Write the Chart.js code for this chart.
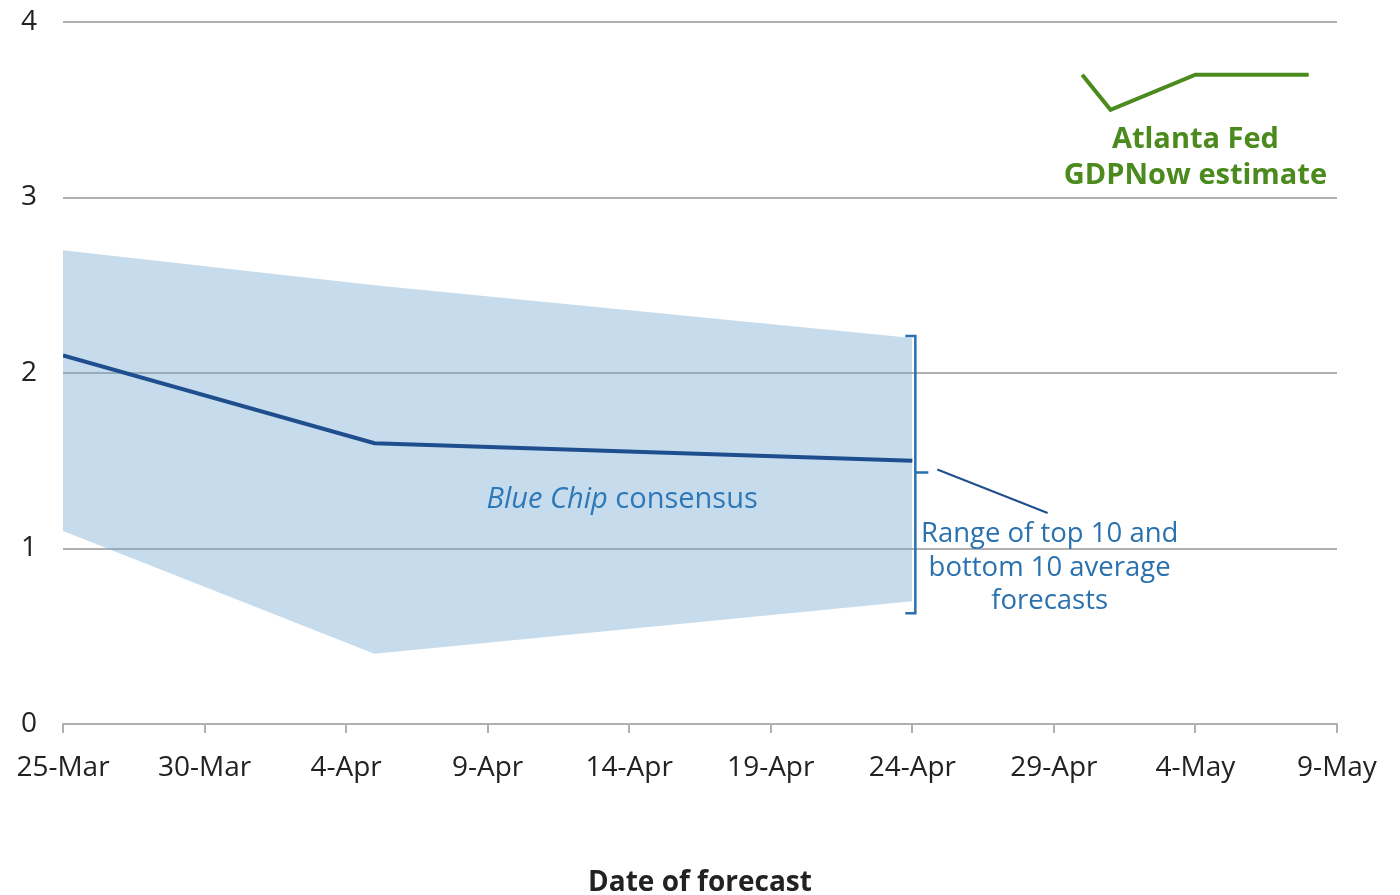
<!DOCTYPE html>
<html>
<head>
<meta charset="utf-8">
<script src="https://cdn.jsdelivr.net/npm/chart.js@4.4.1/dist/chart.umd.min.js"></script>
<style>
    html, body { margin: 0; padding: 0; background: #fff; }
    #wrap { width: 1400px; height: 895px; }
</style>
</head>
<body>
<div id="wrap"><canvas id="gdpChart"></canvas></div>
<script>
const tickLabels = ['25-Mar', '30-Mar', '4-Apr', '9-Apr', '14-Apr', '19-Apr', '24-Apr', '29-Apr', '4-May', '9-May'];
// x values are days after 25-Mar
const consensusDays = [0, 11, 30];
const consensus = [2.1, 1.6, 1.5];
const rangeTop = [2.7, 2.5, 2.2];
const rangeBottom = [1.1, 0.4, 0.7];
const gdpNowDays = [36, 37, 40, 44];
const gdpNow = [3.7, 3.5, 3.7, 3.7];

const FONT = '"Open Sans", sans-serif';

function toPoints(xs, ys) {
    return xs.map((x, i) => ({x: x, y: ys[i]}));
}

// text labels and the bracket next to the range band
const notes = {
    id: 'notes',
    afterDatasetsDraw: function (chart) {
        const ctx = chart.ctx;
        const xs = chart.scales.x;
        const ys = chart.scales.y;
        ctx.save();
        ctx.textBaseline = 'middle';

        // Atlanta Fed label
        ctx.fillStyle = '#4b8a1d';
        ctx.textAlign = 'center';
        ctx.font = 'bold 29px ' + FONT;
        ctx.fillText('Atlanta Fed', xs.getPixelForValue(40), 140);
        ctx.fillText('GDPNow estimate', xs.getPixelForValue(40), 176);

        // Blue Chip consensus (mixed italic)
        ctx.fillStyle = '#2d78b8';
        ctx.textAlign = 'left';
        ctx.font = 'italic 29px ' + FONT;
        const w1 = ctx.measureText('Blue Chip').width;
        ctx.font = '29px ' + FONT;
        const w2 = ctx.measureText(' consensus').width;
        let cx = xs.getPixelForValue(19.75) - (w1 + w2) / 2;
        ctx.font = 'italic 29px ' + FONT;
        ctx.fillText('Blue Chip', cx, 500);
        ctx.font = '29px ' + FONT;
        ctx.fillText(' consensus', cx + w1, 500);

        // range label
        ctx.fillStyle = '#2a71ae';
        ctx.textAlign = 'center';
        ctx.font = '27.5px ' + FONT;
        const rx = xs.getPixelForValue(34.85);
        ctx.fillText('Range of top 10 and', rx, 534);
        ctx.fillText('bottom 10 average', rx, 568);
        ctx.fillText('forecasts', rx, 601);

        // bracket
        const bx = xs.getPixelForValue(consensusDays[consensusDays.length - 1]) + 3;
        const top = ys.getPixelForValue(rangeTop[rangeTop.length - 1]) - 2;
        const bottom = ys.getPixelForValue(rangeBottom[rangeBottom.length - 1]) + 12;
        const mid = (top + bottom) / 2 - 2;
        ctx.strokeStyle = '#2a6fae';
        ctx.lineWidth = 2.5;
        ctx.beginPath();
        ctx.moveTo(bx - 10, top);
        ctx.lineTo(bx, top);
        ctx.lineTo(bx, bottom);
        ctx.lineTo(bx - 10, bottom);
        ctx.moveTo(bx, mid);
        ctx.lineTo(bx + 13, mid);
        ctx.stroke();

        ctx.strokeStyle = '#1f4f8f';
        ctx.lineWidth = 2;
        ctx.beginPath();
        ctx.moveTo(bx + 22, mid - 3);
        ctx.lineTo(rx - 2, 513);
        ctx.stroke();

        ctx.restore();
    }
};

const ctx = document.getElementById('gdpChart').getContext('2d');

new Chart(ctx, {
    type: 'line',
    data: {
        datasets: [
            {
                label: 'top',
                data: toPoints(consensusDays, rangeTop),
                borderWidth: 0,
                pointRadius: 0,
                fill: '+1',
                backgroundColor: 'rgba(112, 166, 206, 0.4)',
                order: 3
            },
            {
                label: 'bottom',
                data: toPoints(consensusDays, rangeBottom),
                borderWidth: 0,
                pointRadius: 0,
                fill: false,
                order: 3
            },
            {
                label: 'Blue Chip consensus',
                data: toPoints(consensusDays, consensus),
                borderColor: '#1f4e8f',
                borderWidth: 4,
                pointRadius: 0,
                fill: false,
                order: 1
            },
            {
                label: 'Atlanta Fed GDPNow estimate',
                data: toPoints(gdpNowDays, gdpNow),
                borderColor: '#4b8a1d',
                borderWidth: 4,
                pointRadius: 0,
                fill: false,
                order: 1
            }
        ]
    },
    options: {
        responsive: true,
        maintainAspectRatio: false,
        animation: false,
        layout: {
            padding: {top: 22, right: 63, bottom: 0, left: 0}
        },
        plugins: {
            legend: {display: false},
            tooltip: {enabled: false}
        },
        scales: {
            x: {
                type: 'linear',
                min: 0,
                max: 45,
                afterFit: function (scale) {
                    scale.height = 171;
                    scale.paddingLeft = 0;
                    scale.paddingRight = 0;
                },
                afterBuildTicks: function (scale) {
                    scale.ticks = tickLabels.map((t, i) => ({value: i * 5}));
                },
                ticks: {
                    stepSize: 5,
                    padding: 18,
                    color: '#222',
                    font: {family: FONT, size: 28},
                    maxRotation: 0,
                    callback: function (value) {
                        return tickLabels[Math.round(value / 5)];
                    }
                },
                grid: {
                    drawOnChartArea: false,
                    drawTicks: true,
                    tickLength: 9,
                    color: '#b0b0b0',
                    lineWidth: 2
                },
                border: {color: '#b0b0b0', width: 2},
                title: {
                    display: true,
                    text: 'Date of forecast',
                    color: '#222',
                    font: {family: FONT, size: 28, weight: 'bold'},
                    padding: {top: 0, bottom: -5}
                }
            },
            y: {
                min: 0,
                max: 4,
                afterFit: function (scale) {
                    scale.width = 63;
                    scale.paddingTop = 0;
                    scale.paddingBottom = 0;
                },
                ticks: {
                    stepSize: 1,
                    padding: 26,
                    color: '#222',
                    font: {family: FONT, size: 28}
                },
                grid: {
                    drawTicks: false,
                    color: '#b0b0b0',
                    lineWidth: 2
                },
                border: {display: false}
            }
        }
    },
    plugins: [notes]
});
</script>
</body>
</html>
